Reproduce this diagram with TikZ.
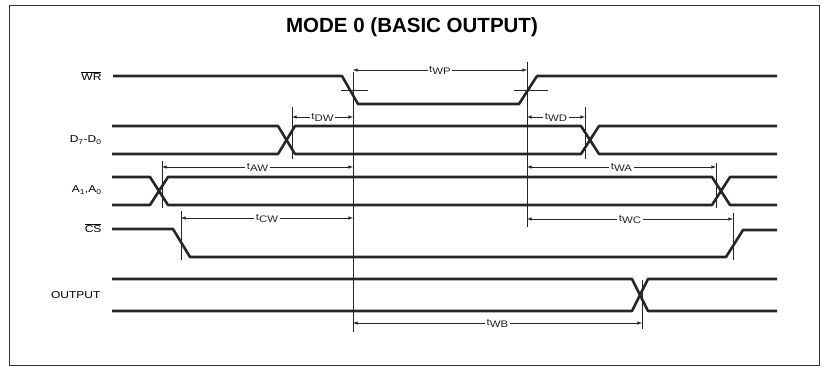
\documentclass[tikz,border=0pt]{standalone}
\usepackage{amsmath}
\usepackage{fontspec}
\setmainfont{Liberation Sans}
\newfontfamily\widesans[FakeStretch=1.2]{Liberation Sans}
\usetikzlibrary{arrows,positioning,calc}

\newcommand{\tlab}[1]{\raisebox{2pt}{t}#1}

\begin{document}
\begin{tikzpicture}[
    x=1pt, y=-1pt,
    sig/.style={line width=2.6pt, line join=round, black!85},
    tickline/.style={line width=0.9pt, black!85},
    dim/.style={latex-latex, line width=0.6pt, black!85},
    lbl/.style={fill=white, inner sep=1.5pt, font=\widesans\fontsize{9.5}{10}\selectfont},
    signame/.style={anchor=east, font=\widesans\fontsize{10}{11}\selectfont}
]
    \useasboundingbox (0,0) rectangle (823,367);
    \draw[line width=1pt, black!80] (9,5) rectangle (819,365);

    % Title
    \node[font=\bfseries\fontsize{20.5}{22}\selectfont] (title) at (412,27) {MODE 0 (BASIC OUTPUT)};

    % Signal names
    \node[signame] (wr) at (105,76) {$\overline{\text{WR}}$};
    \node[signame] (data) at (105,140) {D\textsubscript{7}-D\textsubscript{0}};
    \node[signame] (addr) at (105,190) {A\textsubscript{1},A\textsubscript{0}};
    \node[signame] (cs) at (105,228) {$\overline{\text{CS}}$};
    \node[signame] (out) at (104,295) {OUTPUT};

    % WR
    \draw[sig] (113,76) -- (342,76) -- (358,104) -- (519,104) -- (537,76) -- (777,76);
    \draw[tickline] (341,90) -- (368,90);
    \draw[tickline] (514,90) -- (548,90);

    % D7-D0
    \draw[sig] (112,126) -- (278,126) -- (295,154) -- (581,154) -- (599,126) -- (777,126);
    \draw[sig] (112,154) -- (278,154) -- (295,126) -- (581,126) -- (599,154) -- (777,154);

    % A1,A0
    \draw[sig] (112,177) -- (150,177) -- (168,205) -- (712,205) -- (730,177) -- (777,177);
    \draw[sig] (112,205) -- (150,205) -- (168,177) -- (712,177) -- (730,205) -- (777,205);

    % CS
    \draw[sig] (112,229) -- (173,229) -- (190,257) -- (726,257) -- (743,230) -- (777,230);

    % OUTPUT
    \draw[sig] (112,279) -- (632,279) -- (648,311) -- (777,311);
    \draw[sig] (112,311) -- (632,311) -- (648,279) -- (777,279);

    % Reference lines
    \coordinate (wrlo) at (353,72);
    \coordinate (wrhi) at (527,62);
    \draw[tickline] (wrlo) -- (353,332);
    \draw[tickline] (wrhi) -- (527,227);
    \draw[tickline] (292,107) -- (292,159);
    \draw[tickline] (585,107) -- (585,159);
    \draw[tickline] (162,161) -- (162,208);
    \draw[tickline] (716,163) -- (716,208);
    \draw[tickline] (181,211) -- (181,260);
    \draw[tickline] (733,213) -- (733,260);
    \draw[tickline] (642,280) -- (642,329);

    % Timing intervals
    \coordinate (wp1) at (353,70);  \coordinate (wp2) at (527,70);
    \coordinate (dw1) at (292,117); \coordinate (dw2) at (353,117);
    \coordinate (wd1) at (527,117); \coordinate (wd2) at (585,117);
    \coordinate (aw1) at (162,167); \coordinate (aw2) at (353,167);
    \coordinate (wa1) at (527,167); \coordinate (wa2) at (716,167);
    \coordinate (cw1) at (181,218); \coordinate (cw2) at (353,218);
    \coordinate (wc1) at (527,219); \coordinate (wc2) at (733,219);
    \coordinate (wb1) at (353,323); \coordinate (wb2) at (642,323);

    \draw[dim] (wp1) -- node[lbl] (twp) {\tlab{WP}} (wp2);
    \draw[dim] (dw1) -- node[lbl] (tdw) {\tlab{DW}} (dw2);
    \draw[dim] (wd1) -- node[lbl] (twd) {\tlab{WD}} (wd2);
    \draw[dim] (aw1) -- node[lbl] (taw) {\tlab{AW}} (aw2);
    \draw[dim] (wa1) -- node[lbl] (twa) {\tlab{WA}} (wa2);
    \draw[dim] (cw1) -- node[lbl] (tcw) {\tlab{CW}} (cw2);
    \draw[dim] (wc1) -- node[lbl] (twc) {\tlab{WC}} (wc2);
    \draw[dim] (wb1) -- node[lbl] (twb) {\tlab{WB}} (wb2);

\end{tikzpicture}
\end{document}
